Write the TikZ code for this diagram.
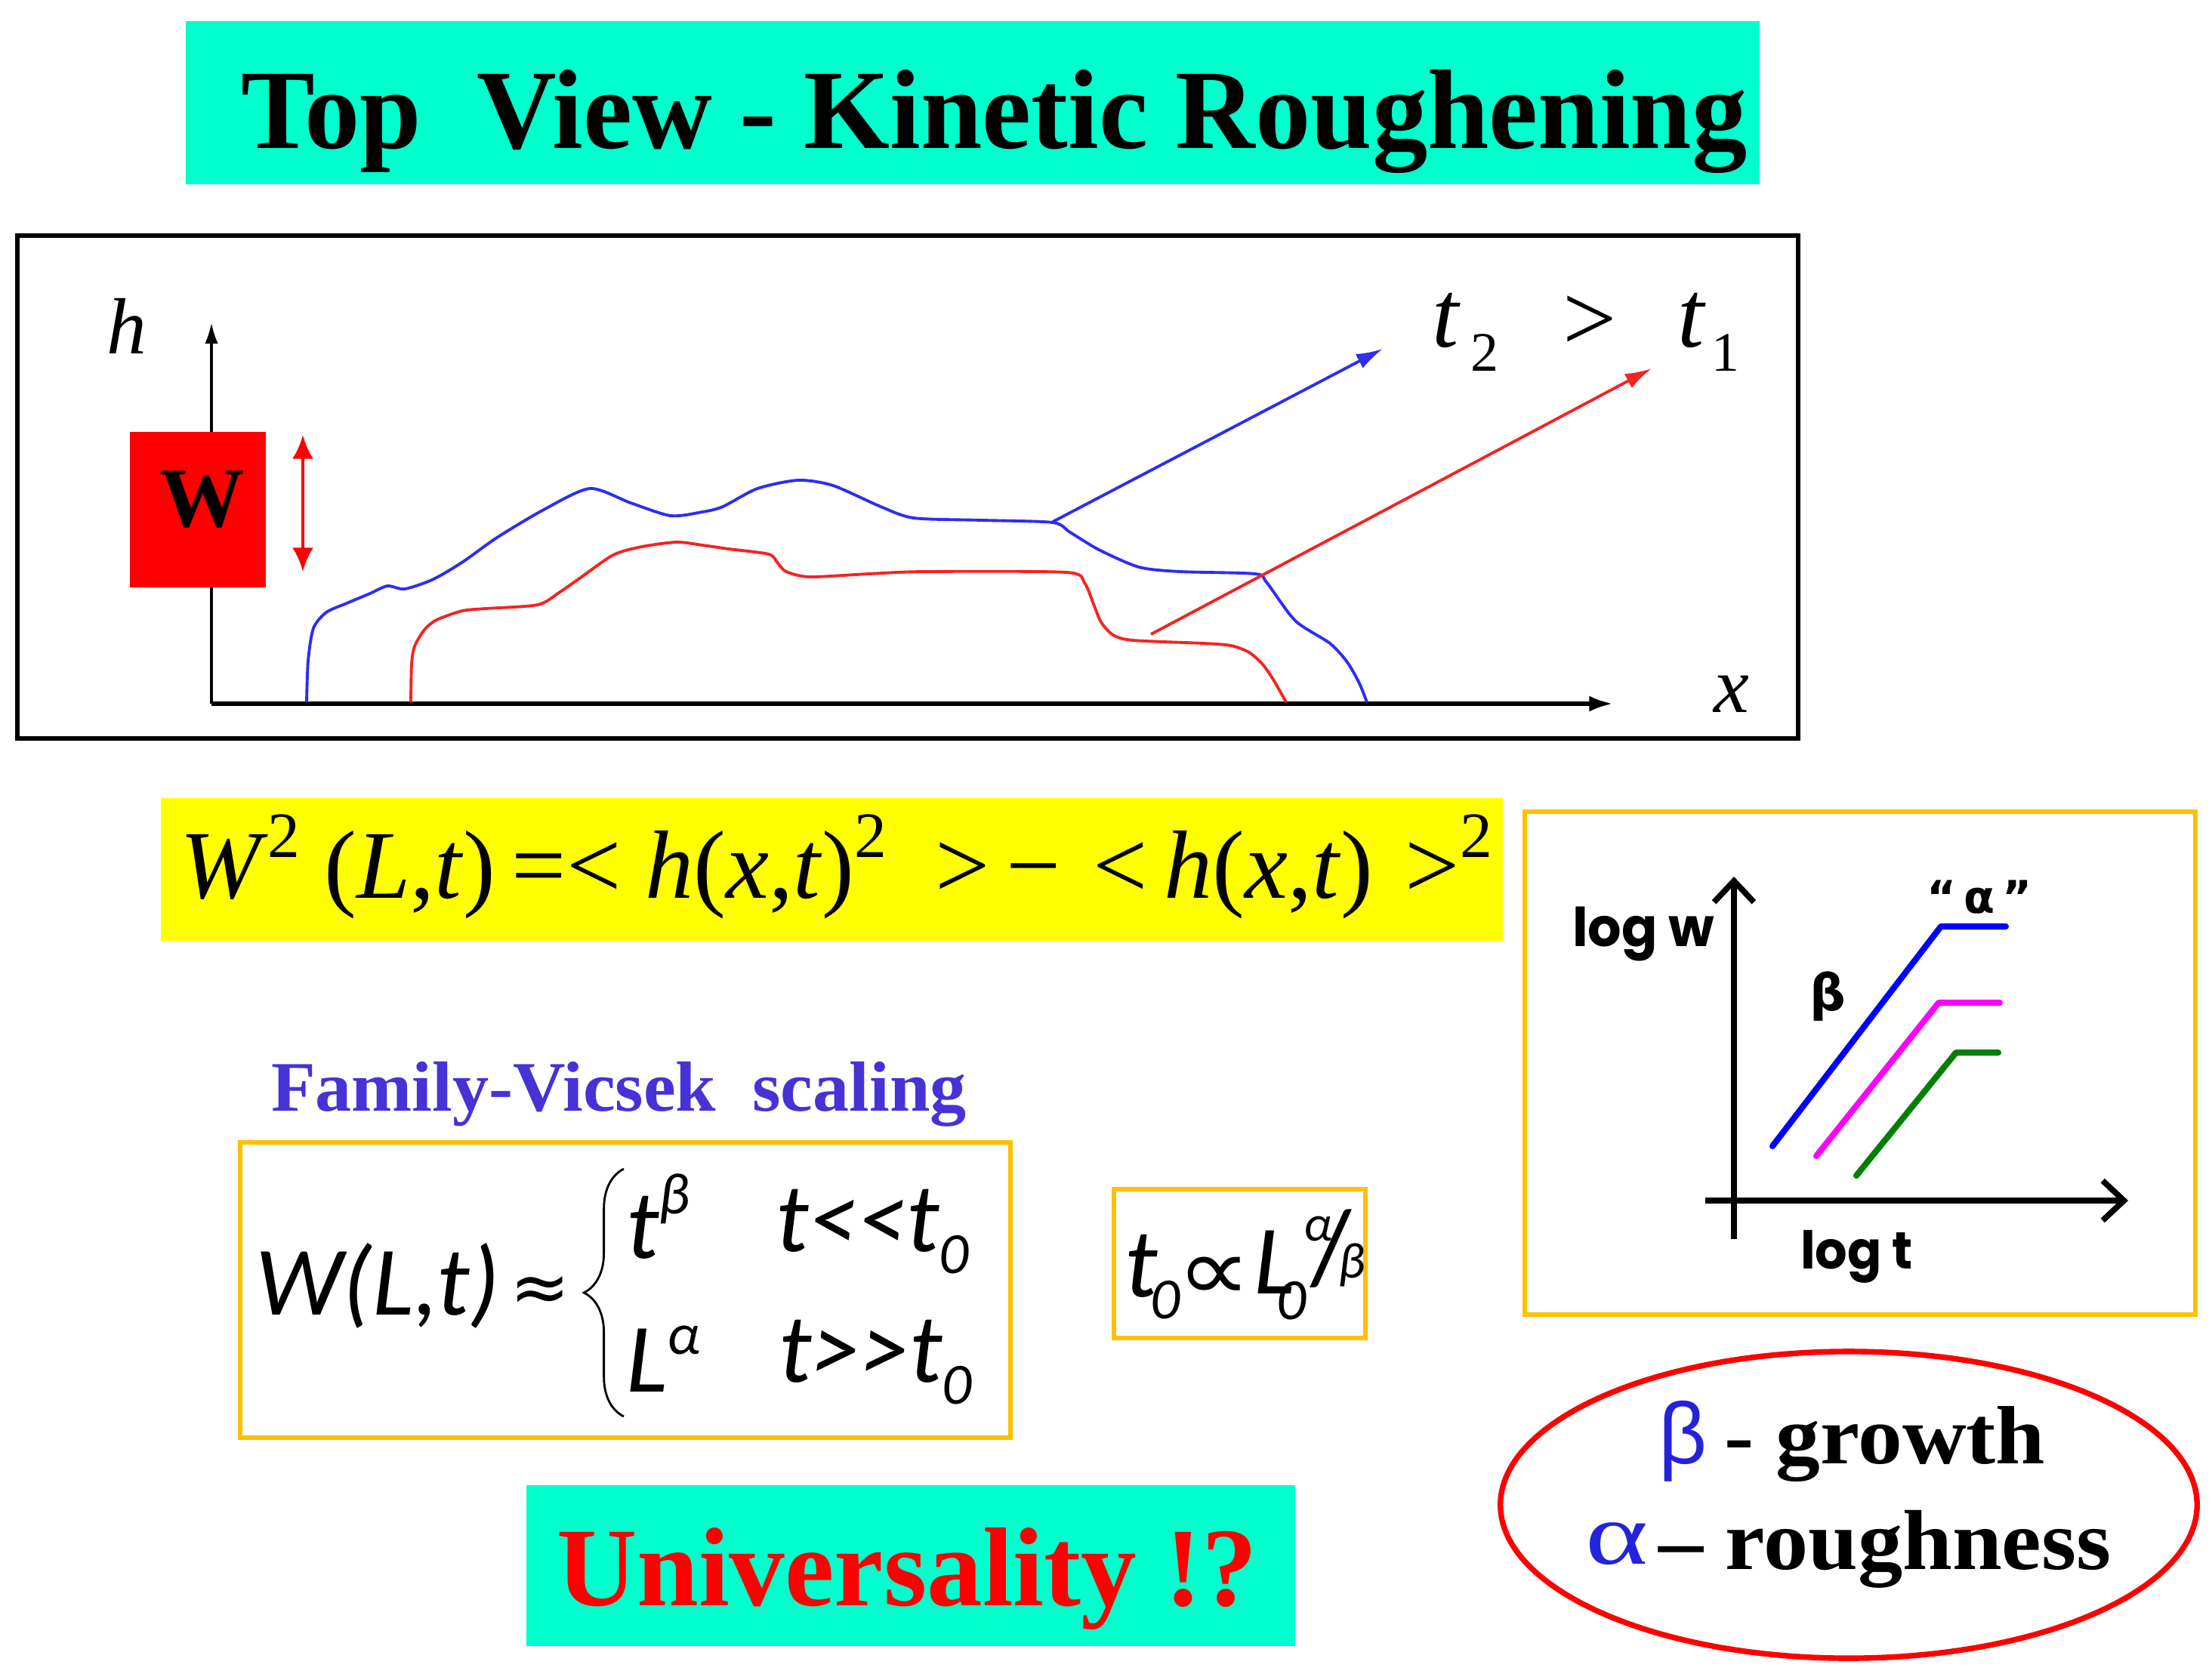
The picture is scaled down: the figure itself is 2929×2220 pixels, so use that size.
\documentclass[tikz,border=0pt]{standalone}
\usepackage{graphicx}
\usepackage{fontspec}
\setmainfont{Liberation Serif}
\newfontfamily\calib{Carlito}
\newfontfamily\gothic{Poppins}
\newfontfamily\dvs{DejaVu Sans}
\newfontfamily\lsans{Liberation Sans}
\usetikzlibrary{arrows.meta,decorations.pathreplacing,fit,shapes.geometric}

\definecolor{tcyan}{RGB}{0,255,204}
\definecolor{tyellow}{RGB}{255,255,0}
\definecolor{torange}{RGB}{255,192,0}
\definecolor{cblue}{RGB}{45,45,245}
\definecolor{cred}{RGB}{245,35,35}
\definecolor{fvblue}{RGB}{70,50,215}
\definecolor{gblue}{RGB}{35,35,220}
\definecolor{pgreen}{RGB}{0,128,0}
\definecolor{pmag}{RGB}{255,0,255}
\definecolor{pblue}{RGB}{0,0,255}

\newcommand\fitbox[3]{\resizebox*{#1}{#2}{#3}}
\newcommand\fvf{\calib\itshape\fontsize{37}{40}\selectfont}
\newcommand\fvs{\calib\itshape\fontsize{22}{24}\selectfont}
\newcommand\eqsq{\raisebox{0.42em}{\fontsize{24}{24}\selectfont 2}}

\begin{document}
\begin{tikzpicture}[x=0.01cm,y=-0.01cm,
  fitt/.style={inner sep=0pt,outer sep=0pt,anchor=north west},
  lbl/.style={inner sep=0pt,outer sep=0pt},
  panel/.style={inner sep=0pt,outer sep=0pt},
  obox/.style={panel,draw=torange,line width=1.7pt},
  curve/.style={line width=1.1pt,line join=round},
  plotline/.style={line width=2.3pt,line cap=round,line join=round},
  baxis/.style={line width=2.2pt,-{Straight Barb[length=8pt,width=15pt,line width=2.2pt]}}]
\useasboundingbox (0,0) rectangle (2929,2220);
\fill[white] (0,0) rectangle (2929,2220);

% ---------- title ----------
\node[panel,fill=tcyan,fit={(246,28)(2330,244)}] (titlebox) {};
\node[fitt] (title) at (319,92) {\fitbox{19.93cm}{1.37cm}{\bfseries Top\ \ View - Kinetic Roughening}};

% ---------- top-view plot ----------
\node[panel,draw=black,line width=1.6pt,fit={(23,312)(2381,978)}] (plotbox) {};
\coordinate (O) at (280,932);
\coordinate (hTop) at (280,427);
\coordinate (xEnd) at (2136,932);
\draw[line width=1.1pt,-{Latex[length=8pt,width=5pt]}] (O) -- (hTop);
\draw[line width=1.6pt,-{Latex[length=9pt,width=6pt]}] (O) -- (xEnd);
\node[lbl,font=\fontsize{30}{30}\selectfont\itshape] (hlab) at (168,432) {h};
\node[lbl,font=\fontsize{30}{30}\selectfont\itshape] (xlab) at (2293,919) {x};

\node[panel,fill=red,fit={(172,572)(352,778)}] (wbox) {};
\node[lbl,font=\fontsize{32}{32}\selectfont\bfseries] (wlab) at (268,661) {W};
\coordinate (wa1) at (401,576);
\coordinate (wa2) at (401,757);
\draw[red,line width=1.4pt,{Latex[length=9pt,width=8pt]}-{Latex[length=9pt,width=8pt]}] (wa1) -- (wa2);

\draw[cblue,curve] plot[smooth,tension=0.45] coordinates {
 (406,930) (408,875) (415,832) (432,811) (459,799) (490,786) (513,776) (536,780)
 (574,767) (613,744) (658,712) (720,675) (781,647) (835,666) (888,683) (930,678)
 (957,671) (1003,647) (1057,636) (1103,643) (1164,670) (1210,686) (1302,689)
 (1394,692) (1417,705) (1455,728) (1508,751) (1562,757) (1662,760) (1677,771)
 (1715,822) (1761,852) (1784,877) (1800,905) (1810,930)};
\draw[cred,curve] plot[smooth,tension=0.45] coordinates {
 (544,930) (545,880) (549,856) (562,834) (578,821) (612,809) (643,806) (712,801)
 (740,785) (766,767) (812,735) (850,724) (896,718) (930,722) (965,727) (1018,734)
 (1030,746) (1041,757) (1072,764) (1150,760) (1225,757) (1412,758)
 (1436,772) (1448,800) (1458,824) (1474,841) (1500,848) (1593,852) (1630,855)
 (1654,864) (1672,880) (1686,900) (1703,930)};

\coordinate (bS) at (1394,691);
\coordinate (bE) at (1831,462);
\draw[cblue,line width=1.1pt,-{Latex[length=10pt,width=6pt]}] (bS) -- (bE);
\coordinate (rS) at (1524,840);
\coordinate (rE) at (2187,488);
\draw[cred,line width=1.1pt,-{Latex[length=10pt,width=6pt]}] (rS) -- (rE);

\node[lbl,font=\fontsize{36}{36}\selectfont\itshape] (t2) at (1914,424) {t};
\node[lbl,font=\fontsize{21}{21}\selectfont] (s2) at (1966,467) {2};
\node[lbl,font=\fontsize{36}{36}\selectfont] (gt) at (2105,428) {>};
\node[lbl,font=\fontsize{36}{36}\selectfont\itshape] (t1) at (2239,424) {t};
\node[lbl,font=\fontsize{21}{21}\selectfont] (s1) at (2285,467) {1};

% ---------- width equation ----------
\node[panel,fill=tyellow,fit={(213,1057)(1990,1246)}] (eqbox) {};
\node[fitt] (eq1) at (238,1079) {\fitbox{17.37cm}{1.38cm}{\fontsize{36}{36}\selectfont
  \textit{W}\eqsq\ (\textit{L},\textit{t})\,=<\ \textit{h}(\textit{x},\textit{t})\eqsq\ \ >\,−\,\,<\,\textit{h}(\textit{x},\textit{t})\,\,>\eqsq}};

% ---------- Family-Vicsek ----------
\node[fitt,text=fvblue] (fvtitle) at (359,1406) {\fitbox{9.2cm}{0.86cm}{\bfseries Family-Vicsek\ \ scaling}};
\node[obox,fit={(318,1513)(1338,1904)}] (fvbox) {};
\node[lbl,anchor=base west] (wlt) at (338,1741) {\fvf W(L,t)};
\node[lbl] (approx) at (715,1714) {\dvs\fontsize{27}{27}\selectfont ≈};
\coordinate (brB) at (826,1876);
\coordinate (brT) at (826,1548);
\draw[decorate,decoration={brace,amplitude=15pt},line width=0.8pt] (brB) -- (brT);
\node[lbl,anchor=base west] (r1a) at (829,1666) {\fvf t\raisebox{0.45em}{\fvs β}};
\node[lbl,anchor=base west] (r1b) at (1027,1657) {\fvf t<\kern0pt<t\raisebox{-0.23em}{\fvs 0}};
\node[lbl,anchor=base west] (r2a) at (829,1843) {\fvf L\raisebox{0.38em}{\fvs α}};
\node[lbl,anchor=base west] (r2b) at (1031,1830) {\fvf t>\kern0pt>t\raisebox{-0.23em}{\fvs 0}};

\node[obox,fit={(1475,1575)(1808,1772)}] (pbox) {};
\node[lbl,anchor=base west] (pt) at (1489,1717) {\fvf t};
\node[lbl] (pt0) at (1543,1722) {\fvs 0};
\node[lbl] (pprop) at (1608,1694) {\scalebox{1.4}[1.2]{\dvs\fontsize{28}{28}\selectfont ∝}};
\node[lbl,anchor=base west] (pL) at (1660,1713) {\fvf L};
\node[lbl] (pL0) at (1710,1723) {\fvs 0};
\node[lbl] (pa) at (1745,1627) {\calib\itshape\fontsize{19}{19}\selectfont α};
\node[lbl] (psl) at (1763,1654) {\calib\fontsize{40}{40}\selectfont /};
\node[lbl] (pb) at (1790,1675) {\calib\itshape\fontsize{19}{19}\selectfont β};

% ---------- log-log plot ----------
\node[obox,fit={(2019,1075)(2907,1741)}] (rbox) {};
\coordinate (vB) at (2296,1641);
\coordinate (vT) at (2296,1161);
\coordinate (hL) at (2258,1590);
\coordinate (hR) at (2818,1590);
\draw[baxis] (vB) -- (vT);
\draw[baxis] (hL) -- (hR);
\draw[pblue,plotline] (2347,1518) -- (2570,1227) -- (2656,1227);
\draw[pmag,plotline] (2405,1531) -- (2567,1328) -- (2648,1328);
\draw[pgreen,plotline] (2458,1557) -- (2590,1394) -- (2646,1394);
\node[fitt] (logw) at (2082,1201) {\fitbox{1.88cm}{0.72cm}{\gothic\bfseries log w}};
\node[fitt] (logt) at (2384,1629) {\fitbox{1.49cm}{0.70cm}{\gothic\bfseries log t}};
\node[lbl] (pbeta) at (2420,1320) {\dvs\bfseries\fontsize{19}{19}\selectfont β};
\node[lbl] (palpha) at (2621,1188) {\dvs\bfseries\fontsize{17}{17}\selectfont “\,α\,”};

% ---------- ellipse ----------
\node[draw=red,ellipse,line width=2.1pt,minimum width=9.22cm,minimum height=4.06cm,inner sep=0pt] (ell) at (2448,1993) {};
\node[fitt,text=gblue] (ebeta) at (2196,1855) {\fitbox{0.64cm}{1.07cm}{\lsans β}};
\node[fitt] (egrowth) at (2283,1863) {\fitbox{4.25cm}{1.0cm}{\bfseries - growth}};
\node[fitt,text=gblue] (ealpha) at (2099,2017) {\fitbox{0.83cm}{0.56cm}{α}};
\node[fitt] (erough) at (2196,2000) {\fitbox{5.99cm}{1.03cm}{\bfseries – roughness}};

% ---------- universality ----------
\node[panel,fill=tcyan,fit={(697,1967)(1715,2180)}] (ubox) {};
\node[fitt,text=red] (univ) at (737,2023) {\fitbox{9.27cm}{1.35cm}{\bfseries Universality !?}};
\end{tikzpicture}
\end{document}
